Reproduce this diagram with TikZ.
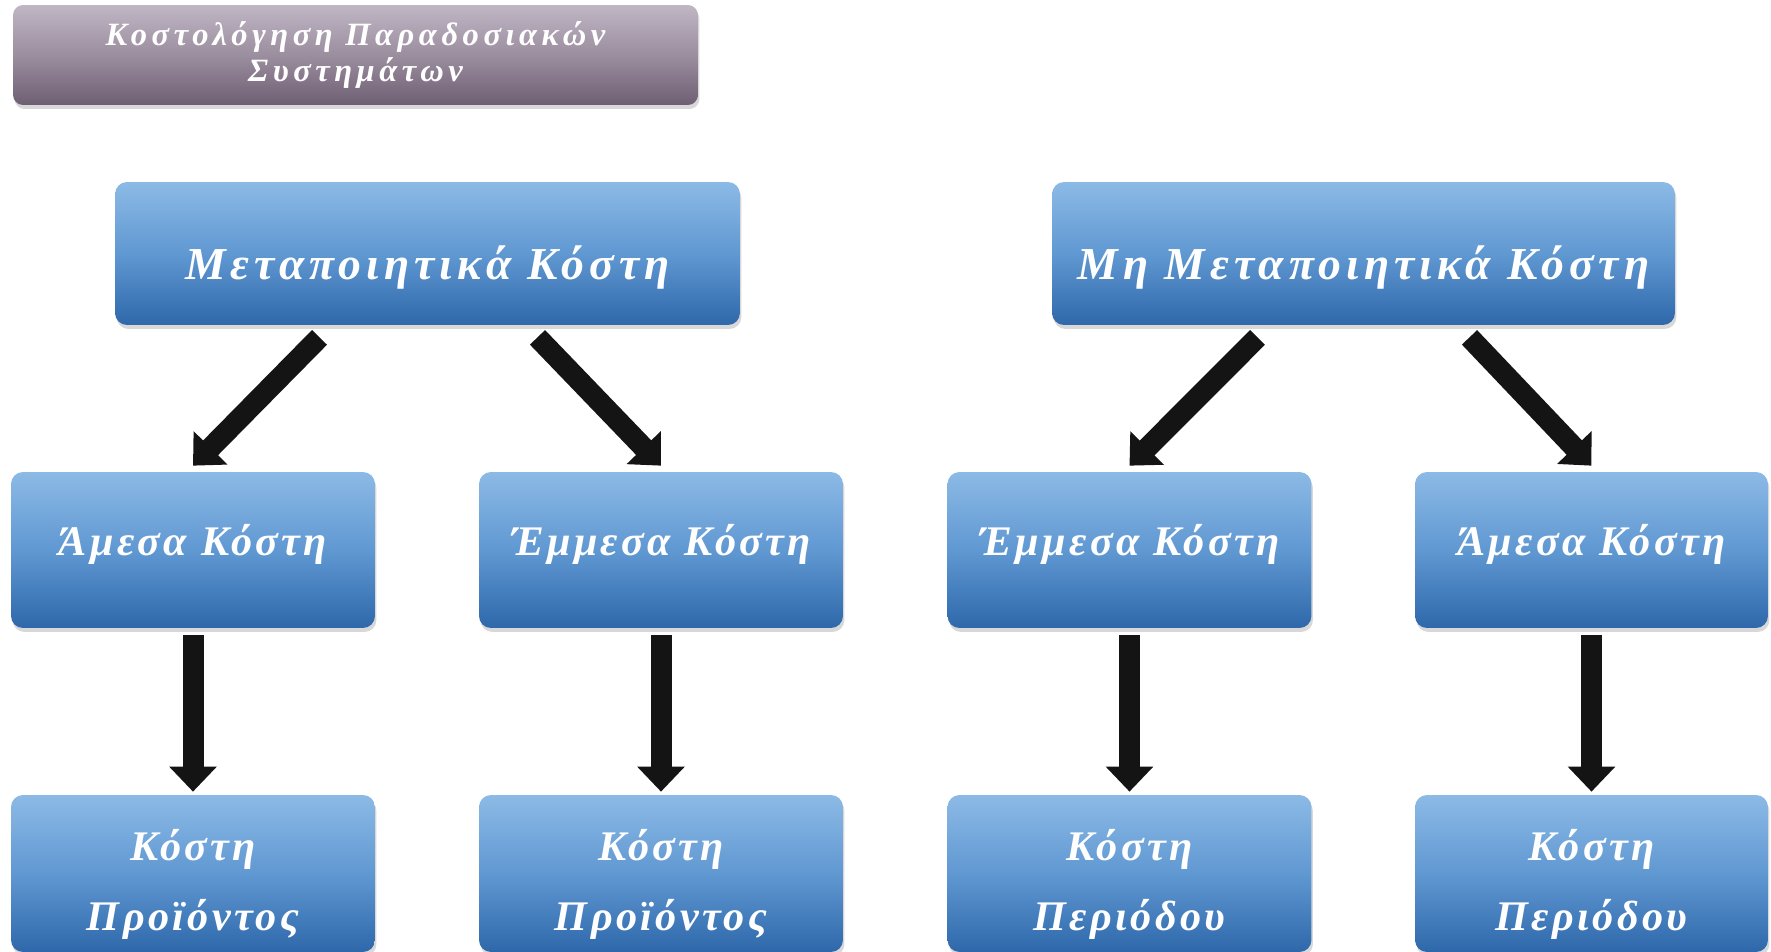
\documentclass[tikz,border=0pt]{standalone}
\usepackage{fontspec}
\setmainfont{Liberation Serif}
\newfontfamily\topfont[LetterSpace=11]{Liberation Serif}
\newfontfamily\boxfont[LetterSpace=8]{Liberation Serif}
\newfontfamily\headfont[LetterSpace=14]{Liberation Serif}
\usetikzlibrary{arrows.meta,calc,shadows}
\definecolor{bluetop}{RGB}{140,186,230}
\definecolor{bluemid}{RGB}{96,152,210}
\definecolor{bluebot}{RGB}{46,104,170}
\definecolor{mauvetop}{RGB}{192,182,196}
\definecolor{mauvebot}{RGB}{110,94,114}
\tikzset{
  box/.style={rounded corners=0.24cm, draw=none, inner sep=0pt,
    drop shadow={shadow xshift=0.03cm, shadow yshift=-0.08cm, opacity=0.3}},
  bluebox/.style={box, top color=bluetop, bottom color=bluebot, middle color=bluemid},
  topbox/.style={bluebox, minimum width=12.5cm, minimum height=2.86cm},
  midbox/.style={bluebox, minimum width=7.28cm, minimum height=3.12cm},
  botbox/.style={bluebox, minimum width=7.28cm, minimum height=3.14cm},
  titlebox/.style={box, top color=mauvetop, bottom color=mauvebot, middle color=mauvetop!55!mauvebot,
    minimum width=13.7cm, minimum height=2.0cm, rounded corners=0.2cm},
  lbl/.style={text=white, align=center, inner sep=0pt},
  toptext/.style={lbl, yshift=-7.7pt, font=\topfont\bfseries\itshape\fontsize{26}{30}\selectfont},
  midtext/.style={lbl, yshift=3.4pt, font=\boxfont\bfseries\itshape\fontsize{24}{28}\selectfont},
  bottext/.style={lbl, yshift=-6.3pt, font=\boxfont\bfseries\itshape\fontsize{24}{40}\selectfont},
  titletext/.style={lbl, font=\headfont\bfseries\itshape\fontsize{18.5}{20.5}\selectfont},
  bigarrow/.style={draw=black!92, line width=0.42cm,
    -{Triangle[width=0.92cm,length=0.5cm]}}
}
\begin{document}
\begin{tikzpicture}[x=0.02cm,y=-0.02cm]
\useasboundingbox (0,0) rectangle (1771,951);
\fill[white] (0,0) rectangle (1771,951);
\node[titlebox, label={[titletext]center:Κοστολόγηση Παραδοσιακών\\Συστημάτων}] (title) at (355.5,55) {};
\node[topbox, label={[toptext]center:Μεταποιητικά Κόστη}] (tl) at (427.5,253.5) {};
\node[topbox, minimum width=12.46cm, label={[toptext]center:Μη Μεταποιητικά Κόστη}] (tr) at (1363.5,253.5) {};
\node[midbox, label={[midtext]center:Άμεσα Κόστη}] (m1) at (193,550) {};
\node[midbox, label={[midtext]center:Έμμεσα Κόστη}] (m2) at (661,550) {};
\node[midbox, label={[midtext]center:Έμμεσα Κόστη}] (m3) at (1129.5,550) {};
\node[midbox, minimum width=7.06cm, label={[midtext]center:Άμεσα Κόστη}] (m4) at (1591.5,550) {};
\node[botbox, label={[bottext]center:Κόστη\\Προϊόντος}] (b1) at (193,873.5) {};
\node[botbox, label={[bottext]center:Κόστη\\Προϊόντος}] (b2) at (661,873.5) {};
\node[botbox, label={[bottext]center:Κόστη\\Περιόδου}] (b3) at (1129.5,873.5) {};
\node[botbox, minimum width=7.06cm, label={[bottext]center:Κόστη\\Περιόδου}] (b4) at (1591.5,873.5) {};
\draw[bigarrow] ($(tl.south)+(-108,12)$) -- ($(m1.north)+(0,-6)$);
\draw[bigarrow] ($(tl.south)+(110,12)$) -- ($(m2.north)+(0,-6)$);
\draw[bigarrow] ($(tr.south)+(-106,12)$) -- ($(m3.north)+(0,-6)$);
\draw[bigarrow] ($(tr.south)+(106,12)$) -- ($(m4.north)+(0,-6)$);
\draw[bigarrow] ($(m1.south)+(0,7)$) -- ($(b1.north)+(0,-3)$);
\draw[bigarrow] ($(m2.south)+(0,7)$) -- ($(b2.north)+(0,-3)$);
\draw[bigarrow] ($(m3.south)+(0,7)$) -- ($(b3.north)+(0,-3)$);
\draw[bigarrow] ($(m4.south)+(0,7)$) -- ($(b4.north)+(0,-3)$);
\end{tikzpicture}
\end{document}
